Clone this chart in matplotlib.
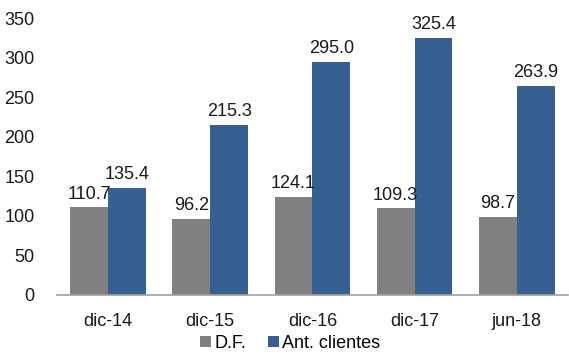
import numpy as np
import matplotlib
matplotlib.use('Agg')
from matplotlib import pyplot as plt

# datos
categorias = ['dic-14', 'dic-15', 'dic-16', 'dic-17', 'jun-18']
df_vals = [110.7, 96.2, 124.1, 109.3, 98.7]
ant_clientes = [135.4, 215.3, 295.0, 325.4, 263.9]

plt.rcParams['font.family'] = ['Liberation Sans', 'DejaVu Sans']

fig = plt.figure(figsize=(5.69, 3.54), dpi=100)
ax = fig.add_axes([0.100, 0.167, 0.898, 0.782])

x = np.arange(len(categorias))
w = 0.37
b1 = ax.bar(x - w / 2, df_vals, w, color='#808080', label='D.F.')
b2 = ax.bar(x + w / 2, ant_clientes, w, color='#366092', label='Ant. clientes')

for bars, vals in ((b1, df_vals), (b2, ant_clientes)):
    for r, v in zip(bars, vals):
        ax.text(r.get_x() + r.get_width() / 2, v + 6, '%.1f' % v,
                ha='center', va='bottom', fontsize=13, color='#1a1a1a')

ax.set_xlim(-0.5, len(categorias) - 0.5)
ax.set_ylim(0, 350)
ax.set_yticks(range(0, 351, 50))
ax.set_xticks(x)
ax.set_xticklabels(categorias)
ax.tick_params(length=0, labelsize=13, colors='#1a1a1a')
ax.tick_params(axis='x', pad=13)
ax.tick_params(axis='y', pad=16)
for s in ['top', 'right', 'left']:
    ax.spines[s].set_visible(False)
ax.spines['bottom'].set_color('#a0a0a0')
ax.spines['bottom'].set_linewidth(1.2)

fig.legend(loc='lower center', bbox_to_anchor=(0.51, -0.04), ncol=2, frameon=False,
           fontsize=13, handlelength=0.6, handleheight=0.6, handletextpad=0.2,
           columnspacing=1.2)

fig.savefig('out.png', dpi=100)
